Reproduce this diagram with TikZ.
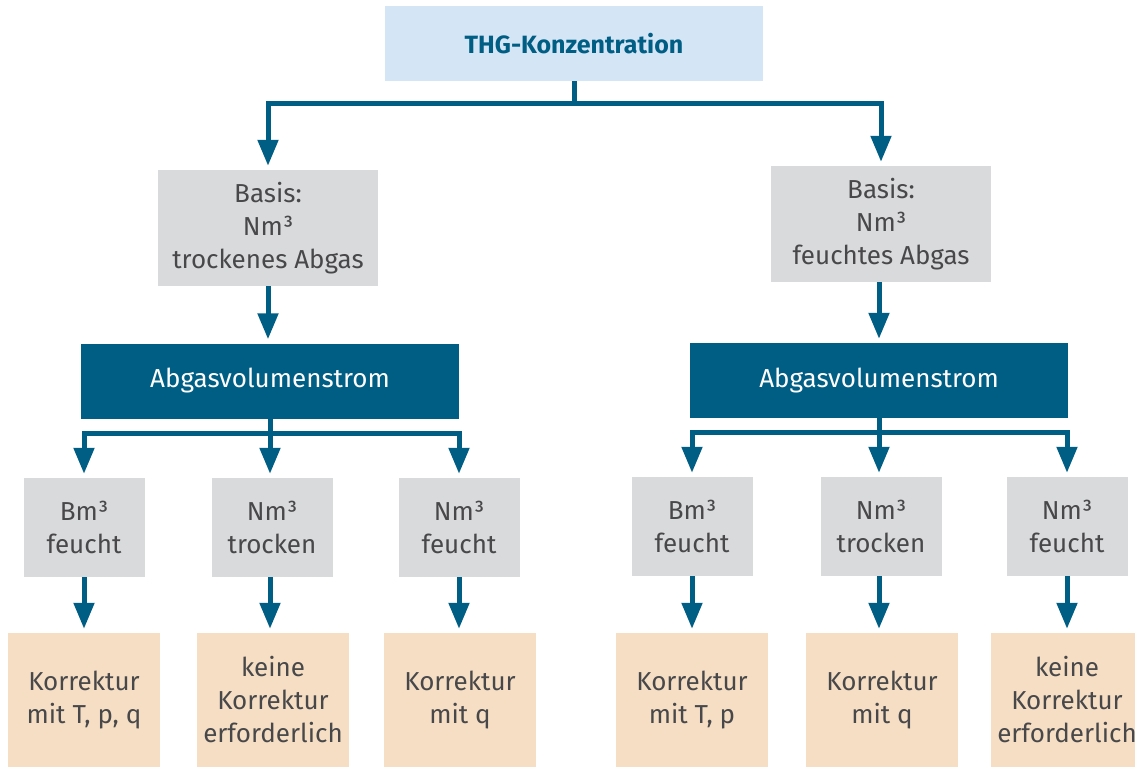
\documentclass[tikz,border=0pt]{standalone}
\usepackage{fontspec}
\setmainfont{Fira Sans}
\usetikzlibrary{arrows.meta}

\definecolor{thgblue}{RGB}{0,94,132}
\definecolor{thglight}{RGB}{212,229,245}
\definecolor{thggray}{RGB}{217,218,220}
\definecolor{thgorange}{RGB}{245,222,196}
\definecolor{thgtext}{RGB}{72,72,74}

\begin{document}
\begin{tikzpicture}[x=1pt, y=-1pt,
  every node/.style={inner sep=0pt, align=center, text=thgtext, font=\fontsize{26}{33}\selectfont},
  topbox/.style={fill=thglight, minimum width=378pt, minimum height=75pt, text=thgblue, font=\fontsize{25}{33}\selectfont\bfseries},
  basisbox/.style={fill=thggray, minimum width=220pt, minimum height=116pt},
  volbox/.style={fill=thgblue, minimum width=378pt, minimum height=75pt, text=white},
  unitbox/.style={fill=thggray, minimum width=121pt, minimum height=99pt},
  corrbox/.style={fill=thgorange, minimum width=152pt, minimum height=134pt},
  conn/.style={draw=thgblue, line width=5pt},
  arr/.style={conn, -{Triangle[width=20pt,length=26pt]}, shorten >=4pt}]

\path[use as bounding box, clip] (0,0) rectangle (1135,767);

\node[topbox] (top) at (574,43.5) {THG-Konzentration};

\node[basisbox] (basisL) at (268,228) {Basis:\\Nm³\\trockenes Abgas};
\node[basisbox] (basisR) at (881,224) {Basis:\\Nm³\\feuchtes Abgas};

\node[volbox] (volL) at (270,381) {Abgasvolumenstrom};
\node[volbox] (volR) at (879,380.5) {Abgasvolumenstrom};

\node[unitbox] (uL1) at (84,527.5) {Bm³\\feucht};
\node[unitbox] (uL2) at (272,527.5) {Nm³\\trocken};
\node[unitbox] (uL3) at (459,527.5) {Nm³\\feucht};
\node[unitbox] (uR1) at (692,526.5) {Bm³\\feucht};
\node[unitbox] (uR2) at (881,526.5) {Nm³\\trocken};
\node[unitbox] (uR3) at (1067,526.5) {Nm³\\feucht};

\node[corrbox] (kL1) at (84,700) {Korrektur\\mit T, p, q};
\node[corrbox] (kL2) at (273,700) {keine\\Korrektur\\erforderlich};
\node[corrbox] (kL3) at (460,700) {Korrektur\\mit q};
\node[corrbox] (kR1) at (692,700) {Korrektur\\mit T, p};
\node[corrbox] (kR2) at (882,700) {Korrektur\\mit q};
\node[corrbox] (kR3) at (1067,700) {keine\\Korrektur\\erforderlich};

% branch points
\coordinate (jtop) at (574,104);
\coordinate (jL) at (270,433);
\coordinate (jR) at (879,432);

\draw[conn] (top.south) -- (jtop);
\draw[arr] (jtop) -| (basisL.north);
\draw[arr] (jtop) -| (basisR.north);

\draw[arr] (basisL.south) -- (basisL.south |- volL.north);
\draw[arr] (volR.north |- basisR.south) -- (volR.north);

\draw[conn] (volL.south) -- (jL);
\draw[arr] (jL) -| (uL1.north);
\draw[arr] (jL) -- (jL |- uL2.north);
\draw[arr] (jL) -| (uL3.north);

\draw[conn] (volR.south) -- (jR);
\draw[arr] (jR) -| (uR1.north);
\draw[arr] (jR) -- (jR |- uR2.north);
\draw[arr] (jR) -| (uR3.north);

\foreach \i in {L1,L3,R1,R3}
  \draw[arr] (u\i.south) -- (u\i.south |- k\i.north);
\draw[arr] (jL |- uL2.south) -- (jL |- kL2.north);
\draw[arr] (jR |- uR2.south) -- (jR |- kR2.north);

\end{tikzpicture}
\end{document}
